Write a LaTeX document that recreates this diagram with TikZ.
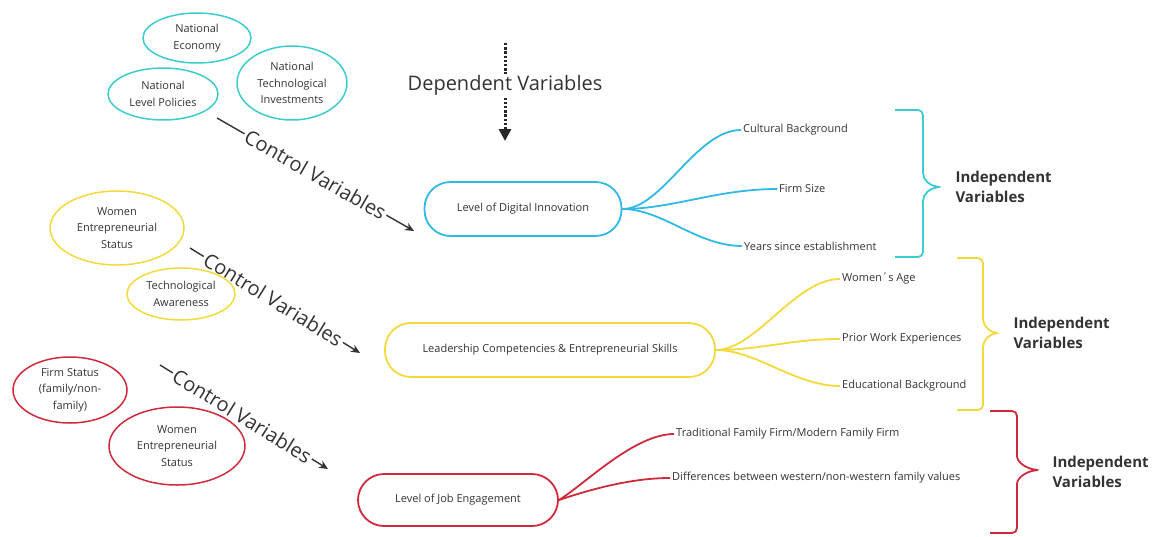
\documentclass[tikz,border=0pt]{standalone}
\usepackage{fontspec}
\setmainfont{Open Sans}
\usetikzlibrary{arrows.meta,shapes.geometric}
\definecolor{ctcyan}{HTML}{3CCBCF}
\definecolor{ctblue}{HTML}{30B9E6}
\definecolor{ctyellow}{HTML}{F3D93C}
\definecolor{ctred}{HTML}{CF2A3C}
\definecolor{ink}{HTML}{333333}
\newcommand{\lblfont}{\fontsize{11}{16.5}\selectfont}
\newcommand{\bigfont}{\fontsize{20}{24}\selectfont}
\newcommand{\indfont}{\fontsize{15}{20}\selectfont\bfseries}

\begin{document}
\begin{tikzpicture}[x=1pt,y=-1pt,
  ctrl/.style={ellipse,draw,line width=1.5pt,align=center,font=\lblfont,text=ink,inner sep=0pt},
  dep/.style={draw,line width=1.8pt,rounded corners=26pt,minimum height=54pt,font=\lblfont,text=ink},
  branch/.style={line width=1.8pt},
  leaf/.style={anchor=west,font=\lblfont,text=ink,inner sep=2pt},
  brace/.style={line width=1.8pt,rounded corners=5pt},
  indep/.style={anchor=west,align=left,font=\indfont,text=ink},
  ctrlline/.style={draw=ink,line width=1.4pt},
  ctrlarrow/.style={ctrlline,-{Stealth[length=9pt,width=8pt]}},
  ctrllbl/.style={sloped,font=\bigfont,text=ink,inner sep=2pt},
  depline/.style={draw=black!85,line width=3pt,dash pattern=on 2.4pt off 1.8pt,-{Triangle[length=12pt,width=12pt]}}]
\useasboundingbox (0,0) rectangle (1158,536);
\node[ctrl,draw=ctcyan,minimum width=108pt,minimum height=50pt] (natecon) at (197,38) {National\\Economy};
\node[ctrl,draw=ctcyan,minimum width=110pt,minimum height=52pt] (natpol) at (163,94) {National\\Level Policies};
\node[ctrl,draw=ctcyan,minimum width=110pt,minimum height=74pt] (nattech) at (292,83) {National\\Technological\\Investments};
\node[ctrl,draw=ctyellow,minimum width=134pt,minimum height=74pt] (womenyel) at (117,228) {Women\\Entrepreneurial\\Status};
\node[ctrl,draw=ctyellow,minimum width=108pt,minimum height=52pt] (techaware) at (181,294) {Technological\\Awareness};
\node[ctrl,draw=ctred,minimum width=114pt,minimum height=66pt] (firmstat) at (70,390) {Firm Status\\(family/non-\\family)};
\node[ctrl,draw=ctred,minimum width=136pt,minimum height=78pt] (womenred) at (177,446) {Women\\Entrepreneurial\\Status};
\node[dep,draw=ctblue,minimum width=197pt] (digital) at (523,209) {Level of Digital Innovation};
\node[dep,draw=ctyellow,minimum width=330pt] (leader) at (550,350) {Leadership Competencies \& Entrepreneurial Skills};
\node[dep,draw=ctred,minimum width=200pt,minimum height=52pt] (jobeng) at (458,500) {Level of Job Engagement};
\coordinate (deptop) at (505,43);
\coordinate (depend) at (505,141);
\draw[depline] (deptop) -- node[pos=0.43,fill=white,font=\bigfont,text=ink,inner sep=1pt] (deplbl) {Dependent Variables} (depend);
\coordinate (ctrlAs) at (217,118);
\coordinate (ctrlAe) at (414,231);
\coordinate (ctrlBs) at (190,248);
\coordinate (ctrlBe) at (360,353);
\coordinate (ctrlCs) at (160,365);
\coordinate (ctrlCe) at (328,469);
\path (ctrlAs) -- node[ctrllbl,pos=0.5] (ctrlA) {Control Variables} (ctrlAe);
\path (ctrlBs) -- node[ctrllbl,pos=0.49] (ctrlB) {Control Variables} (ctrlBe);
\path (ctrlCs) -- node[ctrllbl,pos=0.49] (ctrlC) {Control Variables} (ctrlCe);
\draw[ctrlline] (ctrlAs) -- (ctrlA.west);
\draw[ctrlarrow] (ctrlA.east) -- (ctrlAe);
\draw[ctrlline] (ctrlBs) -- (ctrlB.west);
\draw[ctrlarrow] (ctrlB.east) -- (ctrlBe);
\draw[ctrlline] (ctrlCs) -- (ctrlC.west);
\draw[ctrlarrow] (ctrlC.east) -- (ctrlCe);
\node[leaf] (cultural) at (741,130) {Cultural Background};
\node[leaf] (firmsize) at (777,189) {Firm Size};
\node[leaf] (years) at (742,246) {Years since establishment};
\node[leaf] (womenage) at (840,279) {Women´s Age};
\node[leaf] (priorwork) at (840,339) {Prior Work Experiences};
\node[leaf] (eduback) at (840,386) {Educational Background};
\node[leaf] (tradfirm) at (674,434) {Traditional Family Firm/Modern Family Firm};
\node[leaf] (diffval) at (670,478) {Differences between western/non-western family values};
\draw[branch,ctblue] (digital.east) .. controls +(40,0) and +(-45,0) .. (cultural.west);
\draw[branch,ctblue] (digital.east) .. controls +(50,0) and +(-60,0) .. (firmsize.west);
\draw[branch,ctblue] (digital.east) .. controls +(40,0) and +(-45,0) .. (years.west);
\draw[branch,ctyellow] (leader.east) .. controls +(40,0) and +(-45,0) .. (womenage.west);
\draw[branch,ctyellow] (leader.east) .. controls +(45,0) and +(-50,0) .. (priorwork.west);
\draw[branch,ctyellow] (leader.east) .. controls +(40,0) and +(-45,0) .. (eduback.west);
\draw[branch,ctred] (jobeng.east) .. controls +(25,-15) and +(-40,0) .. (tradfirm.west);
\draw[branch,ctred] (jobeng.east) .. controls +(30,-10) and +(-40,0) .. (diffval.west);
\draw[brace,ctcyan] (895,110) -- (923,110) -- (923,168) .. controls (923,180) and (930,186) .. (942,187) .. controls (930,188) and (923,194) .. (923,206) -- (923,257) -- (895,257);
\draw[brace,ctyellow] (957,258) -- (983,258) -- (983,314) .. controls (983,326) and (990,332) .. (1000,333) .. controls (990,334) and (983,340) .. (983,352) -- (983,410) -- (957,410);
\draw[brace,ctred] (990,411) -- (1017,411) -- (1017,451) .. controls (1017,463) and (1028,469) .. (1040,470) .. controls (1028,471) and (1017,477) .. (1017,489) -- (1017,533) -- (990,533);
\node[indep] (indepA) at (952,187) {Independent\\Variables};
\node[indep] (indepB) at (1010,333) {Independent\\Variables};
\node[indep] (indepC) at (1049,472) {Independent\\Variables};
\end{tikzpicture}
\end{document}
